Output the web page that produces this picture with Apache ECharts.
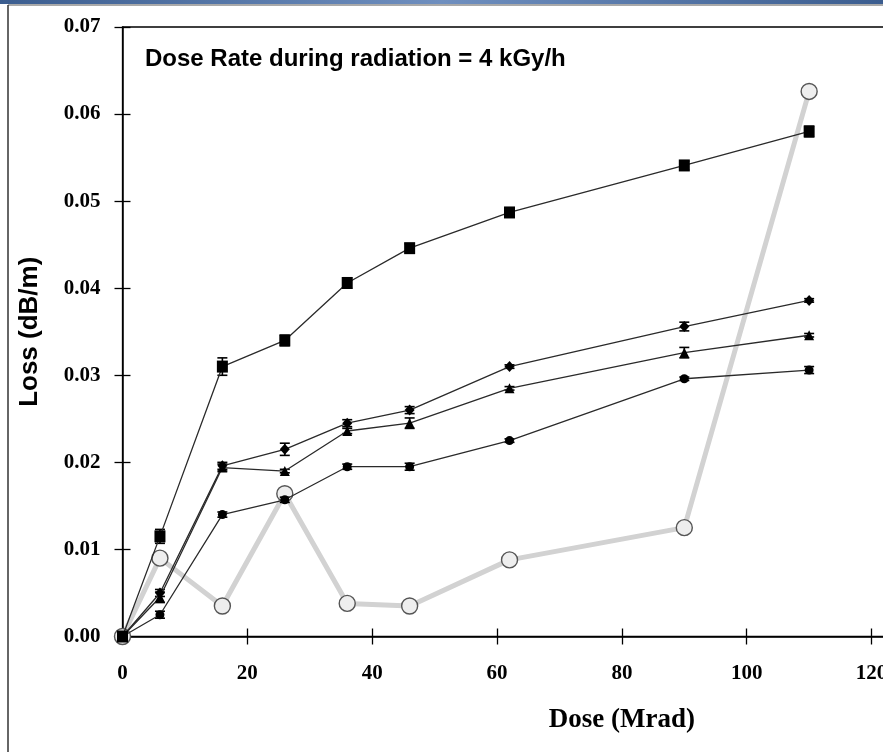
<!DOCTYPE html>
<html>
<head>
<meta charset="utf-8">
<script src="https://cdn.jsdelivr.net/npm/echarts@6/dist/echarts.min.js"></script>
<style>
  html, body { margin: 0; padding: 0; background: #fff; overflow: hidden; }
  #chart { width: 1140px; height: 752px; }
</style>
</head>
<body>
<div id="chart"></div>
<script>
// Dose points (Mrad)
const dose = [0, 6, 16, 26, 36, 46, 62, 90, 110];

// Loss values (dB/m) for each fibre sample
const lossSquare   = [0, 0.0115, 0.031, 0.034, 0.0406, 0.0446, 0.0487, 0.0541, 0.058];
const lossDiamond  = [0, 0.005, 0.0196, 0.0215, 0.0245, 0.026, 0.031, 0.0356, 0.0386];
const lossTriangle = [0, 0.0045, 0.0194, 0.019, 0.0236, 0.0245, 0.0285, 0.0326, 0.0346];
const lossDot      = [0, 0.0025, 0.014, 0.0157, 0.0195, 0.0195, 0.0225, 0.0296, 0.0306];
const lossOpen     = [0, 0.009, 0.0035, 0.0164, 0.0038, 0.0035, 0.0088, 0.0125, 0.0626];

// Half-widths of the error bars (dB/m)
const errSquare   = [0, 0.0008, 0.001, 0.0006, 0.0006, 0.0005, 0.0005, 0.0005, 0.0006];
const errDiamond  = [0, 0.0004, 0.0004, 0.0007, 0.0004, 0.0004, 0.0002, 0.0005, 0.0002];
const errTriangle = [0, 0.0006, 0.0004, 0.0002, 0.0003, 0.0006, 0.0002, 0.0006, 0.0002];
const errDot      = [0, 0.0004, 0.0003, 0.0003, 0.0003, 0.0004, 0.0002, 0.0002, 0.0004];

const xTicks = { min: 0, max: 160, interval: 20 };
const yTicks = { min: 0, max: 0.07, interval: 0.01 };

const titleText = 'Dose Rate during radiation = 4 kGy/h';
const xName = 'Dose (Mrad)';
const yName = 'Loss (dB/m)';

const serif = '"Liberation Serif", "Times New Roman", serif';
const sans = '"Liberation Sans", Arial, sans-serif';

const pairs = (ys) => dose.map((x, i) => [x, ys[i]]);
const errPairs = (ys, es) => dose.map((x, i) => [x, ys[i], es[i]]);

function errorBarSeries(ys, es) {
  return {
    type: 'custom',
    silent: true,
    z: 4,
    data: errPairs(ys, es),
    renderItem: function (params, api) {
      const x = api.value(0), y = api.value(1), e = api.value(2);
      if (!e) return null;
      const hi = api.coord([x, y + e]);
      const lo = api.coord([x, y - e]);
      const w = 5;
      const st = { stroke: '#000', lineWidth: 1.6 };
      return {
        type: 'group',
        children: [
          { type: 'line', shape: { x1: hi[0], y1: hi[1], x2: lo[0], y2: lo[1] }, style: st },
          { type: 'line', shape: { x1: hi[0] - w, y1: hi[1], x2: hi[0] + w, y2: hi[1] }, style: st },
          { type: 'line', shape: { x1: lo[0] - w, y1: lo[1], x2: lo[0] + w, y2: lo[1] }, style: st }
        ]
      };
    }
  };
}

function blackSeries(ys, symbol, size) {
  return {
    type: 'line',
    data: pairs(ys),
    symbol: symbol,
    symbolSize: size,
    showAllSymbol: true,
    z: 5,
    lineStyle: { color: '#2a2a2a', width: 1.3 },
    itemStyle: { color: '#000', borderColor: '#000', borderWidth: 0 },
    emphasis: { disabled: true }
  };
}

const chart = echarts.init(document.getElementById('chart'), null, { renderer: 'canvas' });

const axisLabelY = {
  fontFamily: serif, fontWeight: 'bold', fontSize: 21, color: '#000', margin: 22,
  formatter: (v) => v.toFixed(2)
};
const axisLabelX = {
  fontFamily: serif, fontWeight: 'bold', fontSize: 21, color: '#000', margin: 27
};

chart.setOption({
  animation: false,
  backgroundColor: '#fff',
  grid: {
    left: 122.5, top: 27, height: 609.5, width: 1004.8,
    show: true, borderColor: '#000', borderWidth: 1.3, backgroundColor: '#fff'
  },
  xAxis: [
    {
      type: 'value', position: 'bottom', ...xTicks,
      name: xName, nameLocation: 'middle', nameGap: 70,
      nameTextStyle: { fontFamily: serif, fontWeight: 'bold', fontSize: 27, color: '#000' },
      axisLine: { show: true, lineStyle: { color: '#000', width: 1.5 } },
      axisTick: { show: true, inside: false, length: 8, lineStyle: { color: '#000', width: 1.3 } },
      axisLabel: axisLabelX,
      splitLine: { show: false }
    },
    {
      type: 'value', position: 'bottom', ...xTicks,
      axisLine: { show: false },
      axisTick: { show: true, inside: true, length: 8, lineStyle: { color: '#000', width: 1.3 } },
      axisLabel: { show: false },
      splitLine: { show: false }
    }
  ],
  yAxis: [
    {
      type: 'value', position: 'left', ...yTicks,
      name: yName, nameLocation: 'middle', nameGap: 80, nameRotate: 90,
      nameTextStyle: { fontFamily: sans, fontWeight: 'bold', fontSize: 26, color: '#000' },
      axisLine: { show: true, lineStyle: { color: '#000', width: 1.5 } },
      axisTick: { show: true, inside: false, length: 8, lineStyle: { color: '#000', width: 1.3 } },
      axisLabel: axisLabelY,
      splitLine: { show: false }
    },
    {
      type: 'value', position: 'left', ...yTicks,
      axisLine: { show: false },
      axisTick: { show: true, inside: true, length: 8, lineStyle: { color: '#000', width: 1.3 } },
      axisLabel: { show: false },
      splitLine: { show: false }
    }
  ],
  graphic: [
    // window frame: blue strip on top, thin border on top and left
    {
      type: 'rect', left: 0, top: 0, shape: { width: 883, height: 4 },
      style: {
        fill: new echarts.graphic.LinearGradient(0, 0, 1, 0, [
          { offset: 0, color: '#3b5d8f' }, { offset: 0.5, color: '#6f8fbf' }, { offset: 1, color: '#3b5d8f' }
        ])
      }, z: 100
    },
    { type: 'line', shape: { x1: 8, y1: 5, x2: 883, y2: 5 }, style: { stroke: '#555', lineWidth: 1.2 }, z: 100 },
    { type: 'line', shape: { x1: 8, y1: 5, x2: 8, y2: 752 }, style: { stroke: '#333', lineWidth: 1.5 }, z: 100 },
    {
      type: 'text', left: 145, top: 47, z: 100,
      style: { text: titleText, font: 'bold 24px ' + sans, fill: '#000' }
    }
  ],
  series: [
    {
      type: 'line',
      data: pairs(lossOpen),
      symbol: 'circle',
      symbolSize: 16,
      showAllSymbol: true,
      z: 3,
      lineStyle: { color: '#d2d2d2', width: 5 },
      itemStyle: { color: '#eeeeee', borderColor: '#555', borderWidth: 1.4 },
      emphasis: { disabled: true }
    },
    blackSeries(lossSquare, 'rect', [11, 12]),
    blackSeries(lossDiamond, 'diamond', [10, 11]),
    blackSeries(lossTriangle, 'triangle', 10),
    blackSeries(lossDot, 'circle', 9),
    errorBarSeries(lossSquare, errSquare),
    errorBarSeries(lossDiamond, errDiamond),
    errorBarSeries(lossTriangle, errTriangle),
    errorBarSeries(lossDot, errDot)
  ]
});
</script>
</body>
</html>
